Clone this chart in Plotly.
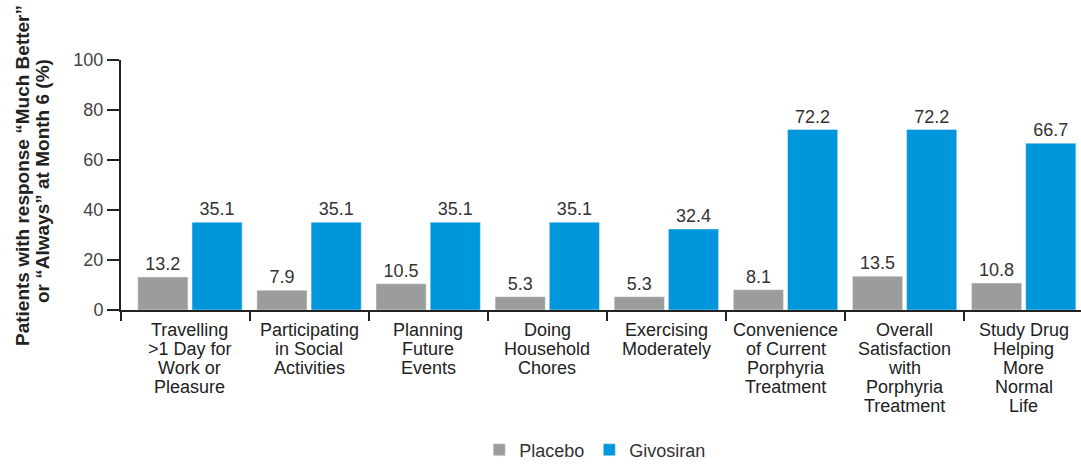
import plotly.graph_objects as go

categories = [
    "Travelling >1 Day for Work or Pleasure",
    "Participating in Social Activities",
    "Planning Future Events",
    "Doing Household Chores",
    "Exercising Moderately",
    "Convenience of Current Porphyria Treatment",
    "Overall Satisfaction with Porphyria Treatment",
    "Study Drug Helping More Normal Life",
]
category_lines = [
    ["Travelling", ">1 Day for", "Work or", "Pleasure"],
    ["Participating", "in Social", "Activities"],
    ["Planning", "Future", "Events"],
    ["Doing", "Household", "Chores"],
    ["Exercising", "Moderately"],
    ["Convenience", "of Current", "Porphyria", "Treatment"],
    ["Overall", "Satisfaction", "with", "Porphyria", "Treatment"],
    ["Study Drug", "Helping", "More", "Normal", "Life"],
]
placebo = [13.2, 7.9, 10.5, 5.3, 5.3, 8.1, 13.5, 10.8]
givosiran = [35.1, 35.1, 35.1, 35.1, 32.4, 72.2, 72.2, 66.7]
y_ticks = [0, 20, 40, 60, 80, 100]
y_title_lines = ["Patients with response \u201cMuch Better\u201d",
                 "or \u201cAlways\u201d at Month 6 (%)"]

FONT = "Liberation Sans, Arial, sans-serif"
GREY = "#9c9c9c"
BLUE = "#0096db"
TXT = "#333333"
FS = 18

fig = go.Figure()
fig.add_trace(go.Bar(
    name="Placebo", x=categories, y=placebo, marker_color=GREY,
    text=[f"{v:.1f}" for v in placebo], textposition="outside",
    textfont=dict(size=FS, color=TXT, family=FONT), cliponaxis=False,
))
fig.add_trace(go.Bar(
    name="Givosiran", x=categories, y=givosiran, marker_color=BLUE,
    text=[f"{v:.1f}" for v in givosiran], textposition="outside",
    textfont=dict(size=FS, color=TXT, family=FONT), cliponaxis=False,
))
# helper (empty) trace so the boundary-tick axis is drawn
fig.add_trace(go.Scatter(x=[], y=[], xaxis="x2", showlegend=False, hoverinfo="skip"))

x_range = [-0.579, 7.481]

annotations = []
# category labels, one annotation per line for tight line spacing
for cat, lines in zip(categories, category_lines):
    for i, line in enumerate(lines):
        annotations.append(dict(
            text=line, x=cat, xref="x", y=0, yref="paper",
            xanchor="center", yanchor="middle", yshift=-(20 + 19 * i),
            showarrow=False, font=dict(size=FS, color="#222222", family=FONT),
        ))
# y axis title (two rotated lines)
for (line, xpix, ycen) in zip(y_title_lines, [22, 42], [176, 181]):
    annotations.append(dict(
        text="<b>" + line + "</b>", textangle=-90,
        xref="paper", yref="paper",
        x=(xpix - 121) / 960, y=(310 - ycen) / 250,
        xanchor="center", yanchor="middle", showarrow=False,
        font=dict(size=19, color="#222222", family=FONT),
    ))

fig.update_layout(
    width=1081, height=464,
    margin=dict(l=121, r=0, t=60, b=154, autoexpand=False),
    paper_bgcolor="white", plot_bgcolor="white",
    font=dict(family=FONT, color=TXT),
    barmode="group", bargap=0.09, bargroupgap=0.075,
    showlegend=True,
    legend=dict(
        orientation="h", x=0.494, xanchor="center", y=-0.634, yanchor="bottom",
        font=dict(size=FS, color=TXT, family=FONT),
        itemwidth=30, traceorder="normal",
    ),
    xaxis=dict(
        type="category", range=x_range, automargin=False,
        showline=True, linecolor="#222222", linewidth=2,
        showticklabels=False, ticks="",
        showgrid=False, zeroline=False,
    ),
    xaxis2=dict(
        overlaying="x", anchor="y", side="bottom", range=x_range, automargin=False,
        tickmode="array", tickvals=[-0.579, 0.5, 1.5, 2.5, 3.5, 4.5, 5.5, 6.5],
        showticklabels=False, ticks="outside", ticklen=10, tickwidth=2,
        tickcolor="#222222", showline=False, showgrid=False, zeroline=False,
    ),
    yaxis=dict(
        range=[0, 100], tickmode="array", tickvals=y_ticks, automargin=False,
        showline=True, linecolor="#222222", linewidth=2,
        ticks="outside", ticklen=12, tickwidth=2, tickcolor="#222222",
        tickfont=dict(size=FS, color="#444444", family=FONT),
        showgrid=False, zeroline=False,
    ),
    annotations=annotations,
)

fig.write_html(
    "out.html",
    config={"displayModeBar": False},
    post_script="document.body.style.margin='0';document.body.style.overflow='hidden';",
)
